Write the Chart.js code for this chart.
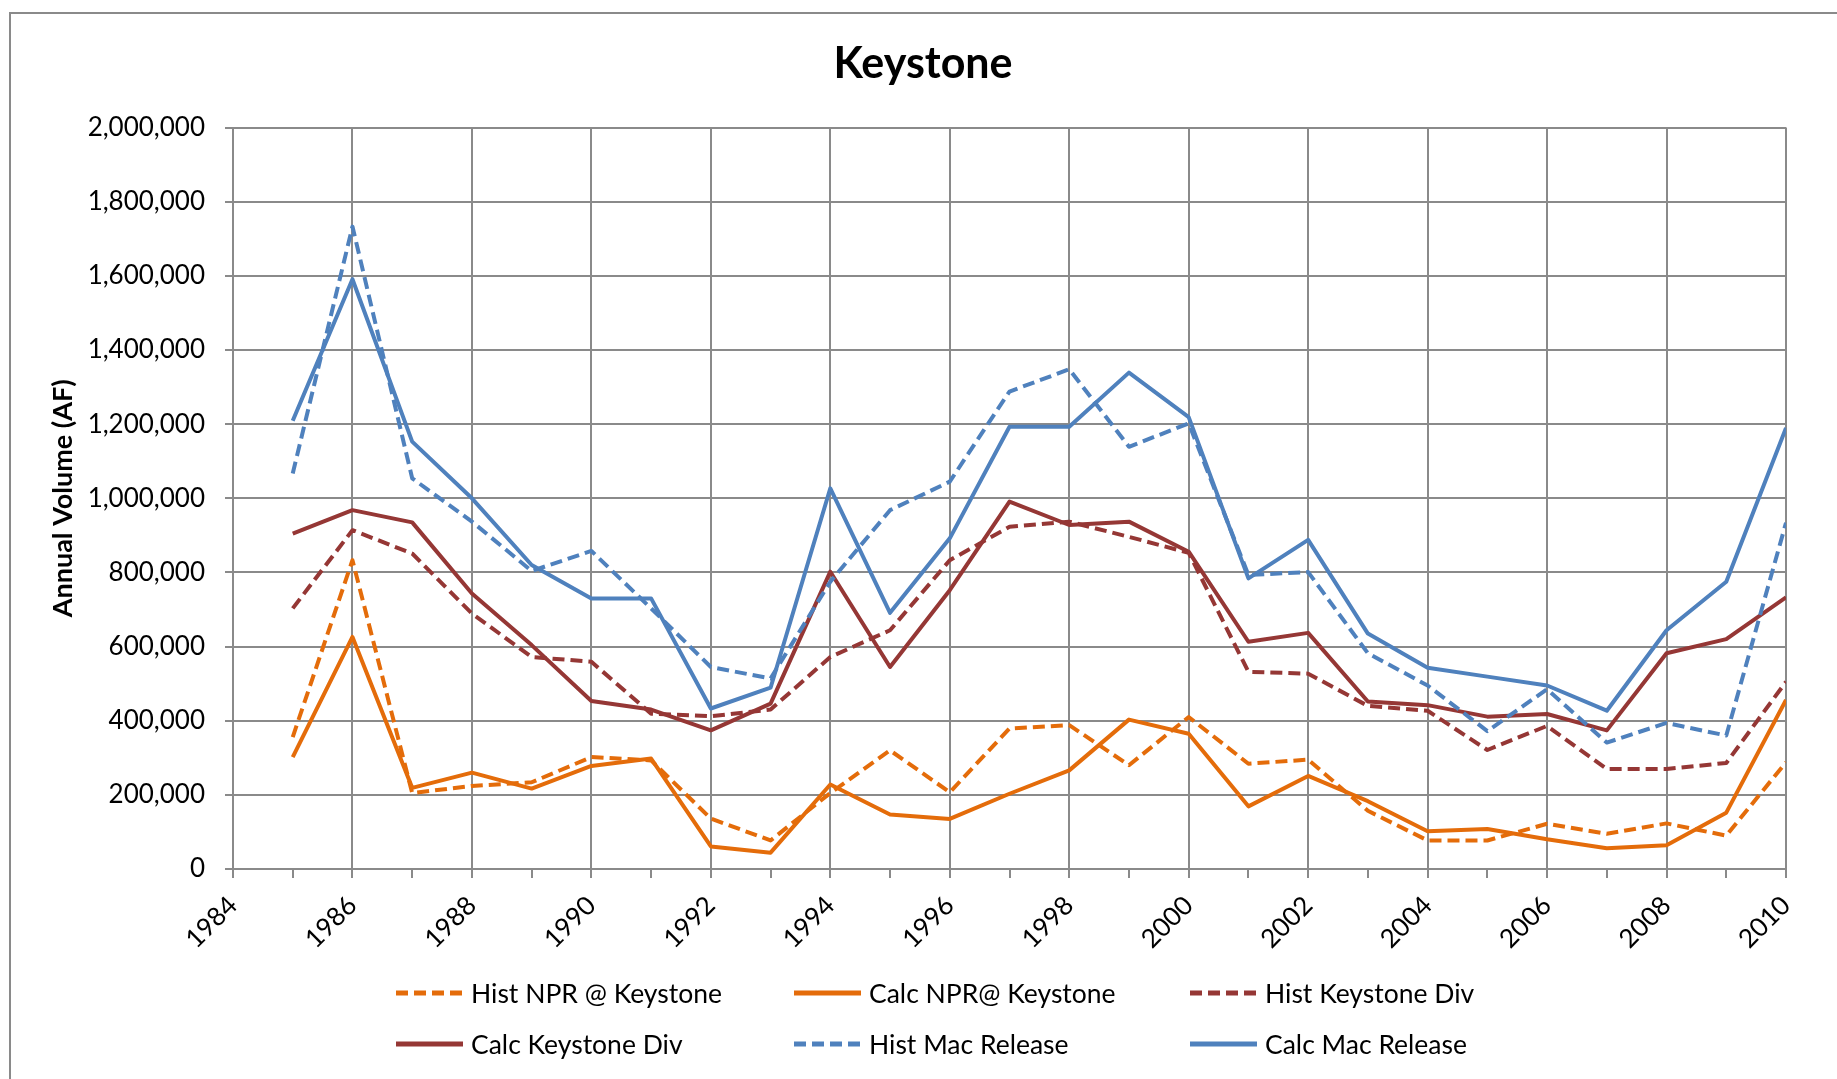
<!DOCTYPE html>
<html lang="en">
<head>
    <meta charset="UTF-8">
    <title>Keystone</title>
    <script src="https://cdn.jsdelivr.net/npm/chart.js"></script>
    <style>
        body {
            margin: 0;
            padding: 0;
            background: white;
            font-family: Lato, sans-serif;
        }
        .frame {
            position: absolute;
            left: 9px;
            top: 12px;
            width: 1900px;
            height: 1100px;
            border-top: 2px solid #8a8a8a;
            border-left: 2px solid #8a8a8a;
        }
        #wrap {
            position: absolute;
            left: 0;
            top: 0;
            width: 1837px;
            height: 1079px;
        }
        .legend {
            position: absolute;
            left: 0;
            top: 0;
            width: 1837px;
            height: 1079px;
            pointer-events: none;
        }
        .item {
            position: absolute;
            display: flex;
            align-items: center;
            font-size: 26.5px;
            color: #000;
            white-space: nowrap;
        }
        .item svg {
            margin-right: 8px;
        }
    </style>
</head>
<body>
    <div class="frame"></div>
    <div id="wrap">
        <canvas id="keystoneChart" width="1837" height="1079"></canvas>
    </div>
    <div class="legend" id="legend"></div>

    <script>
        // values (acre-feet)
        const years = [1985, 1986, 1987, 1988, 1989, 1990, 1991, 1992, 1993, 1994, 1995, 1996, 1997,
                       1998, 1999, 2000, 2001, 2002, 2003, 2004, 2005, 2006, 2007, 2008, 2009, 2010];

        const histNPR = [356000, 833000, 205000, 224000, 234000, 302000, 293000, 136000, 77000, 205000, 320000, 207000, 379000,
                         388000, 280000, 410000, 284000, 295000, 157000, 77000, 77000, 122000, 95000, 123000, 90000, 288000];
        const calcNPR = [302000, 626000, 219000, 260000, 217000, 278000, 298000, 61000, 44000, 228000, 147000, 135000, 203000,
                         266000, 403000, 365000, 169000, 251000, 183000, 102000, 108000, 80000, 56000, 64000, 152000, 456000];
        const histKeyDiv = [703000, 914000, 851000, 689000, 572000, 559000, 419000, 412000, 430000, 572000, 644000, 833000, 923000,
                            937000, 896000, 853000, 532000, 527000, 440000, 427000, 321000, 386000, 270000, 270000, 286000, 505000];
        const calcKeyDiv = [905000, 968000, 935000, 743000, 604000, 453000, 430000, 374000, 446000, 802000, 545000, 752000, 991000,
                            928000, 937000, 856000, 613000, 637000, 452000, 442000, 411000, 418000, 374000, 582000, 620000, 733000];
        const histMac = [1067000, 1733000, 1054000, 937000, 804000, 858000, 703000, 545000, 514000, 775000, 968000, 1045000, 1288000,
                         1348000, 1139000, 1202000, 793000, 801000, 582000, 495000, 372000, 485000, 341000, 394000, 360000, 934000];
        const calcMac = [1209000, 1591000, 1153000, 1000000, 820000, 730000, 730000, 433000, 489000, 1027000, 691000, 892000, 1193000,
                         1193000, 1339000, 1219000, 784000, 888000, 635000, 543000, 519000, 495000, 427000, 644000, 775000, 1190000];

        const seriesNames = ['Hist NPR @ Keystone', 'Calc NPR@ Keystone', 'Hist Keystone Div',
                             'Calc Keystone Div', 'Hist Mac Release', 'Calc Mac Release'];
        const seriesValues = [histNPR, calcNPR, histKeyDiv, calcKeyDiv, histMac, calcMac];
        const seriesColors = ['#E46C0A', '#E46C0A', '#953735', '#953735', '#4F81BD', '#4F81BD'];
        const seriesDashed = [true, false, true, false, true, false];

        const gridColor = '#8a8a8a';

        const datasets = seriesNames.map((name, i) => ({
            label: name,
            data: years.map((y, j) => ({ x: y, y: seriesValues[i][j] })),
            borderColor: seriesColors[i],
            backgroundColor: seriesColors[i],
            borderWidth: 4,
            borderDash: seriesDashed[i] ? [12, 6] : [],
            borderJoinStyle: 'round',
            pointRadius: 0,
            tension: 0,
            fill: false,
            order: 5 - i
        }));

        const ctx = document.getElementById('keystoneChart').getContext('2d');
        new Chart(ctx, {
            type: 'line',
            data: { datasets: datasets },
            options: {
                responsive: false,
                animation: false,
                layout: {
                    padding: { left: 9, right: 0, top: 0, bottom: 90 }
                },
                plugins: {
                    legend: { display: false },
                    tooltip: { enabled: false },
                    title: {
                        display: true,
                        text: 'Keystone',
                        color: '#000',
                        font: { family: 'Lato', size: 43, weight: 'bold' },
                        padding: { top: 38, bottom: 38 }
                    }
                },
                scales: {
                    x: {
                        type: 'linear',
                        min: 1984,
                        max: 2010,
                        afterFit: (scale) => { scale.height = 120; },
                        ticks: {
                            stepSize: 1,
                            autoSkip: false,
                            maxRotation: 45,
                            minRotation: 45,
                            padding: 12,
                            color: '#000',
                            font: { family: 'Lato', size: 26 },
                            callback: (v) => (v % 2 === 0 ? String(v) : '')
                        },
                        grid: {
                            color: (c) => (c.tick && c.tick.value % 2 === 0 ? gridColor : 'rgba(0,0,0,0)'),
                            tickColor: gridColor,
                            lineWidth: 2,
                            tickLength: 9
                        },
                        border: { color: gridColor, width: 2 }
                    },
                    y: {
                        min: 0,
                        max: 2000000,
                        afterFit: (scale) => { scale.width = 224; },
                        ticks: {
                            stepSize: 200000,
                            padding: 20,
                            color: '#000',
                            font: { family: 'Lato', size: 26 },
                            callback: (v) => v.toLocaleString('en-US')
                        },
                        grid: {
                            color: gridColor,
                            lineWidth: 2,
                            tickLength: 8
                        },
                        border: { color: gridColor, width: 2 },
                        title: {
                            display: true,
                            text: 'Annual Volume (AF)',
                            color: '#000',
                            font: { family: 'Lato', size: 27, weight: 'bold' },
                            padding: { top: 38, bottom: 0 }
                        }
                    },
                    // empty right-hand axis: only keeps the plot's right margin
                    yRight: {
                        position: 'right',
                        min: 0,
                        max: 1,
                        afterFit: (scale) => { scale.width = 51; },
                        ticks: { display: false },
                        grid: { display: false },
                        border: { display: false }
                    }
                }
            }
        });

        // legend laid out in three fixed columns like the original
        const legendCols = [396, 794, 1190];
        const legendRows = [994, 1045];
        const legendBox = document.getElementById('legend');
        seriesNames.forEach((name, i) => {
            const item = document.createElement('div');
            item.className = 'item';
            item.style.left = legendCols[i % 3] + 'px';
            item.style.top = (legendRows[Math.floor(i / 3)] - 17) + 'px';
            const dash = seriesDashed[i] ? 'stroke-dasharray="12 6"' : '';
            item.innerHTML = '<svg width="67" height="8"><line x1="0" y1="4" x2="67" y2="4" stroke="' +
                seriesColors[i] + '" stroke-width="5" ' + dash + '/></svg><span>' + name + '</span>';
            legendBox.appendChild(item);
        });
    </script>
</body>
</html>
